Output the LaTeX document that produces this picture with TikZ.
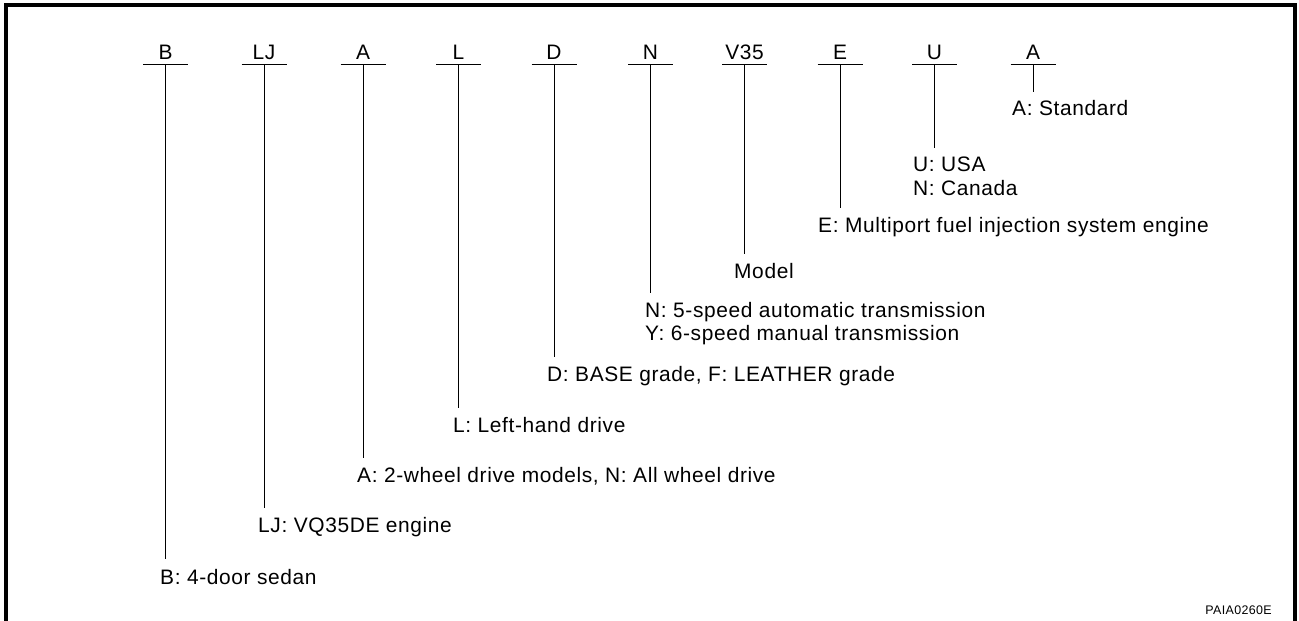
\documentclass[tikz,border=0pt]{standalone}
\usepackage{fontspec}
\setmainfont{Liberation Sans}[LetterSpace=3]
\begin{document}
\begin{tikzpicture}[x=1bp,y=-1bp,
  frame/.style={line width=4bp},
  tick/.style={line width=1bp},
  code/.style={font=\fontsize{21}{23}\selectfont, anchor=base, inner sep=0pt},
  desc/.style={font=\fontsize{21}{24}\selectfont, anchor=base west, inner sep=0pt},
  ref/.style={font=\fontsize{12.5}{14}\selectfont, anchor=base east, inner sep=0pt}]
\useasboundingbox (0,0) rectangle (1299,621);
% frame
\coordinate (f1) at (5.5,621);
\coordinate (f2) at (5.5,5.5);
\coordinate (f3) at (1294.5,5.5);
\coordinate (f4) at (1294.5,621);
\draw[frame] (f1) -- (f2) -- (f3) -- (f4);

% B
\node[code] (cB) at (165.5,60) {B};
\coordinate (bB) at (165.5,65); \coordinate (eB) at (165.5,559);
\draw[tick] ([xshift=-22.5bp]bB) -- ([xshift=22.5bp]bB);
\draw[tick] (bB) -- (eB);
\node[desc] (dB) at (160,584) {B: 4-door sedan};

% LJ
\node[code] (cLJ) at (264,60) {LJ};
\coordinate (bLJ) at (264,65); \coordinate (eLJ) at (264,508);
\draw[tick] ([xshift=-22.5bp]bLJ) -- ([xshift=22.5bp]bLJ);
\draw[tick] (bLJ) -- (eLJ);
\node[desc] (dLJ) at (258,532) {LJ: VQ35DE engine};

% A (drive)
\node[code] (cA1) at (363,60) {A};
\coordinate (bA1) at (363,65); \coordinate (eA1) at (363,458);
\draw[tick] ([xshift=-22.5bp]bA1) -- ([xshift=22.5bp]bA1);
\draw[tick] (bA1) -- (eA1);
\node[desc] (dA1) at (357,482) {A: 2-wheel drive models, N: All wheel drive};

% L
\node[code] (cL) at (458.5,60) {L};
\coordinate (bL) at (458.5,65); \coordinate (eL) at (458.5,408);
\draw[tick] ([xshift=-22.5bp]bL) -- ([xshift=22.5bp]bL);
\draw[tick] (bL) -- (eL);
\node[desc] (dL) at (453,432) {L: Left-hand drive};

% D
\node[code] (cD) at (554,60) {D};
\coordinate (bD) at (554,65); \coordinate (eD) at (554,357);
\draw[tick] ([xshift=-22.5bp]bD) -- ([xshift=22.5bp]bD);
\draw[tick] (bD) -- (eD);
\node[desc] (dD) at (547,381) {D: BASE grade, F: LEATHER grade};

% N
\node[code] (cN) at (650.5,60) {N};
\coordinate (bN) at (650.5,65); \coordinate (eN) at (650.5,293);
\draw[tick] ([xshift=-22.5bp]bN) -- ([xshift=22.5bp]bN);
\draw[tick] (bN) -- (eN);
\node[desc] (dN1) at (645,317) {N: 5-speed automatic transmission};
\node[desc] (dN2) at (645,340) {Y: 6-speed manual transmission};

% V35
\node[code] (cV) at (744.5,60) {V35};
\coordinate (bV) at (744.5,65); \coordinate (eV) at (744.5,254);
\draw[tick] ([xshift=-22.5bp]bV) -- ([xshift=22.5bp]bV);
\draw[tick] (bV) -- (eV);
\node[desc] (dV) at (734,278) {Model};

% E
\node[code] (cE) at (840,60) {E};
\coordinate (bE) at (840,65); \coordinate (eE) at (840,208);
\draw[tick] ([xshift=-22.5bp]bE) -- ([xshift=22.5bp]bE);
\draw[tick] (bE) -- (eE);
\node[desc] (dE) at (818,232) {E: Multiport fuel injection system engine};

% U
\node[code] (cU) at (934.5,60) {U};
\coordinate (bU) at (934.5,65); \coordinate (eU) at (934.5,148);
\draw[tick] ([xshift=-22.5bp]bU) -- ([xshift=22.5bp]bU);
\draw[tick] (bU) -- (eU);
\node[desc] (dU1) at (913,172) {U: USA};
\node[desc] (dU2) at (913,195) {N: Canada};

% A (standard)
\node[code] (cA2) at (1033,60) {A};
\coordinate (bA2) at (1033,65); \coordinate (eA2) at (1033,92);
\draw[tick] ([xshift=-22.5bp]bA2) -- ([xshift=22.5bp]bA2);
\draw[tick] (bA2) -- (eA2);
\node[desc] (dA2) at (1012,116) {A: Standard};

% reference code
\node[ref] (pid) at (1272,614) {PAIA0260E};
\end{tikzpicture}
\end{document}
